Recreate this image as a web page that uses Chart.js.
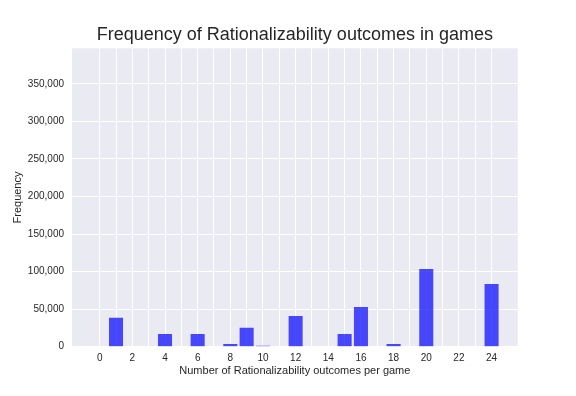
<!DOCTYPE html>
<html>
<head>
<meta charset="utf-8">
<script src="https://cdn.jsdelivr.net/npm/chart.js@4"></script>
<style>
  html, body { margin: 0; padding: 0; background: #fff; }
  #wrap { width: 576px; height: 396px; }
</style>
</head>
<body>
<div id="wrap"><canvas id="chart" width="576" height="396"></canvas></div>
<script>
/* Frequency of Rationalizability outcomes (seaborn darkgrid look) */
var outcomes = [0, 1, 2, 3, 4, 5, 6, 7, 8, 9, 10, 11, 12, 13, 14, 15, 16, 17, 18, 19, 20, 21, 22, 23, 24];
var frequency = [0, 38600, 0, 0, 16900, 0, 16900, 0, 3600, 25300, 1300, 0, 40900, 0, 0, 16900, 52900, 0, 3600, 0, 103500, 0, 0, 0, 83500];
var xTicks = [0, 1, 2, 3, 4, 5, 6, 7, 8, 9, 10, 11, 12, 13, 14, 15, 16, 17, 18, 19, 20, 21, 22, 23, 24];
var yTicks = [0, 50000, 100000, 150000, 200000, 250000, 300000, 350000];

(function () {
  "use strict";
  var FONT = "'Liberation Sans', Arial, sans-serif";
  var TXT = "#262626";

  var plotBg = {
    id: "plotBg",
    beforeDraw: function (c) {
      var a = c.chartArea, ctx = c.ctx;
      ctx.save();
      ctx.fillStyle = "#EAEAF2";
      ctx.fillRect(a.left, a.top, a.right - a.left, a.bottom - a.top);
      ctx.restore();
    }
  };

  new Chart(document.getElementById("chart"), {
    type: "bar",
    data: {
      datasets: [{
        label: "Frequency",
        data: outcomes.map(function (o, i) { return { x: o, y: frequency[i] }; }),
        backgroundColor: "rgba(0,0,255,0.7)",
        borderWidth: 0,
        barPercentage: 0.86,
        categoryPercentage: 1
      }]
    },
    options: {
      responsive: false,
      animation: false,
      layout: { padding: { left: 0, right: 58.3, top: 0, bottom: 0 } },
      plugins: {
        legend: { display: false },
        tooltip: { enabled: false },
        title: {
          display: true,
          text: "Frequency of Rationalizability outcomes in games",
          fullSize: false,
          color: TXT,
          font: { family: FONT, size: 18, weight: "normal", lineHeight: 1.2 },
          padding: { top: 24.3, bottom: 2.4 }
        }
      },
      scales: {
        x: {
          type: "linear",
          min: -1.696,
          max: 25.6,
          offset: false,
          border: { display: false },
          grid: { color: "#ffffff", lineWidth: 1, drawTicks: false, offset: false },
          afterBuildTicks: function (s) { s.ticks = xTicks.map(function (v) { return { value: v }; }); },
          afterFit: function (s) { s.height = 49.3; },
          ticks: {
            autoSkip: false, maxRotation: 0, padding: 6, color: TXT,
            font: { family: FONT, size: 10 },
            callback: function (v) { return v % 2 === 0 ? String(v) : ""; }
          },
          title: {
            display: true, text: "Number of Rationalizability outcomes per game", color: TXT,
            font: { family: FONT, size: 11 }, padding: { top: 0, bottom: 18.8 }
          }
        },
        y: {
          min: 0,
          max: 397300,
          border: { display: false },
          grid: { color: "#ffffff", lineWidth: 1, drawTicks: false },
          afterBuildTicks: function (s) { s.ticks = yTicks.map(function (v) { return { value: v }; }); },
          afterFit: function (s) { s.width = 72; },
          ticks: {
            padding: 8, color: TXT,
            font: { family: FONT, size: 10 },
            callback: function (v) { return Number(v).toLocaleString("en-US"); }
          },
          title: {
            display: true, text: "Frequency", color: TXT,
            font: { family: FONT, size: 11 }, padding: { top: 11.2, bottom: 0 }
          }
        }
      }
    },
    plugins: [plotBg]
  });
})();
</script>
</body>
</html>
